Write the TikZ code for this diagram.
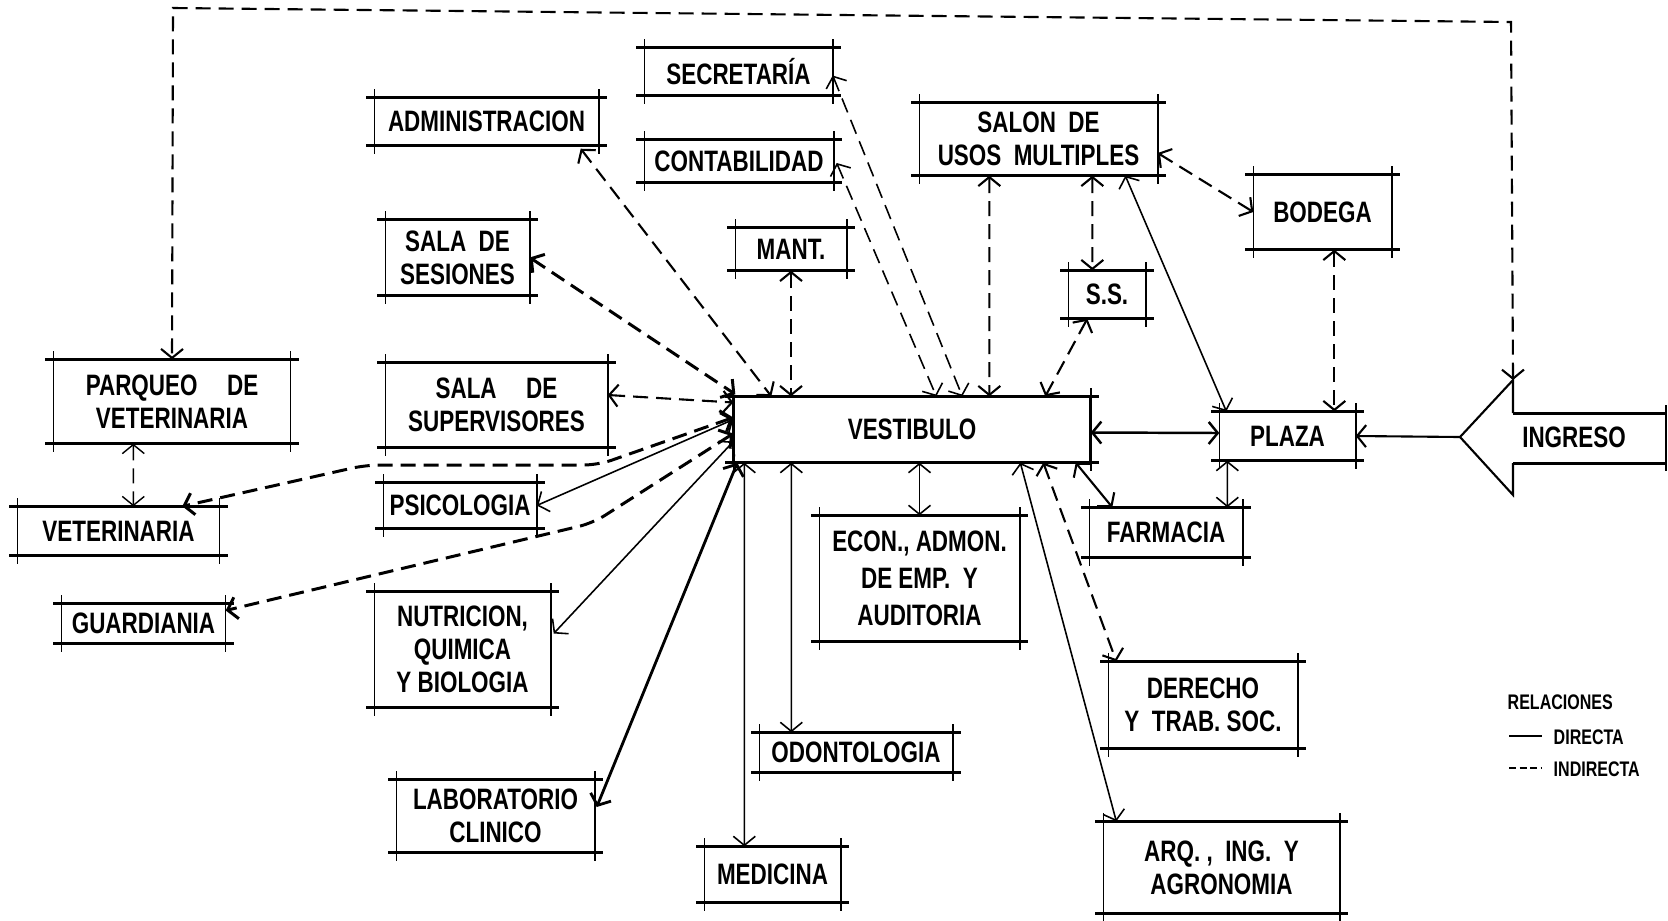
\documentclass[tikz,border=0pt]{standalone}
\usepackage{fontspec}
\newfontfamily\hand{Liberation Sans}[FakeStretch=0.76]
\usetikzlibrary{arrows.meta, calc}

\begin{document}
\begin{tikzpicture}[x=0.1mm, y=-0.1mm, >={Straight Barb[length=0.9mm,width=2.2mm]},
    room/.style={inner sep=0pt, align=center, font=\hand\bfseries\fontsize{8.4}{9.4}\selectfont},
    legend/.style={inner sep=0pt, anchor=west, font=\hand\bfseries\fontsize{6}{6}\selectfont},
    hline/.style={line width=0.85pt},
    vline/.style={line width=0.45pt},
    directa/.style={<->, line width=0.45pt},
    indirecta/.style={<->, line width=0.6pt, dash pattern=on 1.5mm off 0.8mm}]
    \useasboundingbox (0,0) rectangle (1668,920);

    % Rooms
    \node[room, minimum width=22.3mm, minimum height=4.7mm] (adm) at (486.5,121.5) {ADMINISTRACION};
    \node[room, minimum width=14.3mm, minimum height=7.5mm] (ses) at (457.5,257.5) {SALA\ \ DE\\SESIONES};
    \node[room, minimum width=23.6mm, minimum height=8.3mm] (parq) at (172,401.5) {PARQUEO\quad DE\\VETERINARIA};
    \node[room, minimum width=22.1mm, minimum height=8.4mm] (sup) at (496.5,405) {SALA\quad DE\\SUPERVISORES};
    \node[room, minimum width=18.7mm, minimum height=4.7mm] (sec) at (738.5,71.5) {SECRETARÍA};
    \node[room, minimum width=18.8mm, minimum height=4.2mm] (cont) at (739,161) {CONTABILIDAD};
    \node[room, minimum width=11mm, minimum height=4.2mm] (mant) at (791,249) {MANT.};
    \node[room, minimum width=23.7mm, minimum height=7.2mm] (salon) at (1038.5,139) {SALON\ \ DE\\USOS\ \ MULTIPLES};
    \node[room, minimum width=7.6mm, minimum height=4.7mm] (ss) at (1107,294.5) {S.S.};
    \node[room, minimum width=35.6mm, minimum height=6.5mm] (vest) at (912,429.5) {VESTIBULO};
    \node[room, minimum width=13.7mm, minimum height=7.4mm] (bod) at (1322.5,212) {BODEGA};
    \node[room, minimum width=13.5mm, minimum height=4.8mm] (plaza) at (1287.5,436) {PLAZA};
    \node[room, minimum width=20.1mm, minimum height=4.8mm] (vet) at (118.5,531) {VETERINARIA};
    \node[room, minimum width=15.2mm, minimum height=4.5mm] (psi) at (460,505.5) {PSICOLOGIA};
    \node[room, minimum width=16.3mm, minimum height=3.9mm] (guard) at (143.5,623.5) {GUARDIANIA};
    \node[room, minimum width=17.5mm, minimum height=11.5mm] (nut) at (462.5,649.5) {NUTRICION,\\QUIMICA\\Y BIOLOGIA};
    \node[room, minimum width=19.7mm, minimum height=7.2mm] (lab) at (495.5,816) {LABORATORIO\\CLINICO};
    \node[room, minimum width=19.9mm, minimum height=12.5mm, font=\hand\bfseries\fontsize{8.4}{10.5}\selectfont] (econ) at (919.5,578.5) {ECON., ADMON.\\DE EMP.\ \ Y\\AUDITORIA};
    \node[room, minimum width=15.2mm, minimum height=4.9mm] (farm) at (1166,532.5) {FARMACIA};
    \node[room, minimum width=18.8mm, minimum height=8.6mm] (der) at (1203,705) {DERECHO\\Y\ \ TRAB. SOC.};
    \node[room, minimum width=19.2mm, minimum height=3.9mm] (odon) at (856,752.5) {ODONTOLOGIA};
    \node[room, minimum width=13.5mm, minimum height=5.5mm] (med) at (772.5,874.5) {MEDICINA};
    \node[room, minimum width=23.5mm, minimum height=9.1mm] (arq) at (1221.5,867.5) {ARQ.\ ,\ \ ING.\ \ Y\\AGRONOMIA};

    % Frames with crossed corners
    \foreach \n in {adm,ses,parq,sup,sec,cont,mant,salon,ss,vest,bod,plaza,vet,psi,guard,nut,lab,econ,farm,der,odon,med,arq}{
      \draw[hline] ($(\n.north west)+(-8,0)$) -- ($(\n.north east)+(8,0)$);
      \draw[hline] ($(\n.south west)+(-8,0)$) -- ($(\n.south east)+(8,0)$);
      \draw[vline] ($(\n.north west)+(0,-8)$) -- ($(\n.south west)+(0,8)$);
      \draw[vline] ($(\n.north east)+(0,-8)$) -- ($(\n.south east)+(0,8)$);
    }
    \draw[hline] (vest.north west) -- (vest.south west) (vest.north east) -- (vest.south east);

    % Entrance
    \coordinate (ingtip) at (1460,437);
    \coordinate (ingtop) at (1513,380);
    \coordinate (ingbot) at (1513,495);
    \draw[line width=0.6pt] (ingtip) -- (ingtop) -- (1513,413) (ingtip) -- (ingbot) -- (1513,463);
    \draw[hline] (1513,413) -- (1666,413) (1513,463) -- (1666,463);
    \draw[vline] (1666,405) -- (1666,471);
    \node[room] (ing) at (1574,437) {INGRESO};

    % Indirect relations
    \draw[indirecta] (ingtop) -- (1511,22) -- (173,8) -- (parq.north);
    \draw[indirecta, line width=0.4pt] ($(parq.south west)+(80,0)$) -- ($(vet.north west)+(116,0)$);
    \draw[indirecta, line width=0.85pt, rounded corners=4pt] ($(vest.west)+(0,-12)$) -- (598,465) -- (366,465) -- ($(vet.north west)+(165,0)$);
    \draw[indirecta] ($(sup.east)+(0,-10)$) -- ($(vest.west)+(0,-27)$);
    \draw[indirecta, line width=0.85pt, rounded corners=4pt] ($(vest.west)+(0,4)$) -- (593,523) -- ($(guard.east)+(0,-13)$);
    \draw[indirecta, line width=0.85pt] (ses.east) -- ($(vest.north west)+(2,-2)$);
    \draw[indirecta] ($(adm.south east)+(-18,3)$) -- ($(vest.north west)+(38,0)$);
    \draw[indirecta] (mant.south) -- (mant.south |- vest.north);
    \draw[indirecta, line width=0.45pt] ($(cont.east)+(3,2)$) -- ($(vest.north west)+(203,0)$);
    \draw[indirecta, line width=0.45pt] ($(sec.east)+(0,4)$) -- ($(vest.north west)+(229,0)$);
    \draw[indirecta] ($(salon.south west)+(70,0)$) -- ($(vest.north west)+(256,0)$);
    \draw[indirecta] ($(ss.south west)+(19,0)$) -- ($(vest.north west)+(312,0)$);
    \draw[indirecta] ($(salon.south west)+(173,0)$) -- ($(ss.north west)+(24,0)$);
    \draw[indirecta] ($(salon.east)+(0,14)$) -- (bod.west);
    \draw[indirecta] ($(bod.south west)+(81,0)$) -- ($(plaza.north west)+(115,0)$);
    \draw[indirecta] ($(vest.south west)+(310,0)$) -- ($(der.north west)+(8,0)$);

    % Direct relations
    \draw[directa] (psi.east) -- ($(vest.west)+(0,-10)$);
    \draw[directa] ($(nut.east)+(3,-16)$) -- ($(vest.west)+(0,12)$);
    \draw[directa, line width=0.8pt] ($(lab.east)+(2,-9)$) -- ($(vest.south west)+(4,0)$);
    \draw[directa] ($(vest.south west)+(11,0)$) -- ($(med.north west)+(40,0)$);
    \draw[directa] ($(vest.south west)+(58,0)$) -- ($(odon.north west)+(32,0)$);
    \draw[directa] (econ.north |- vest.south) -- (econ.north);
    \draw[directa] ($(vest.south west)+(287,0)$) -- ($(arq.north west)+(13,0)$);
    \draw[directa, line width=0.6pt] ($(vest.south east)+(-15,0)$) -- ($(farm.north west)+(23,0)$);
    \draw[directa, line width=0.7pt] ($(vest.east)+(0,3)$) -- ($(plaza.west)+(0,-3)$);
    \draw[directa, ->, line width=0.6pt] (ingtip) -- (plaza.east);
    \draw[directa] ($(plaza.south west)+(8,0)$) -- ($(farm.north west)+(138,0)$);
    \draw[directa] ($(salon.south west)+(206,0)$) -- ($(plaza.north west)+(7,0)$);

    % Legend
    \node[legend] (rel) at (1507,702) {RELACIONES};
    \node[legend] (ldir) at (1553,737) {DIRECTA};
    \node[legend] (lind) at (1553,769) {INDIRECTA};
    \draw[line width=0.8pt] (1509,736) -- (1542,736);
    \draw[line width=0.8pt, dash pattern=on 0.7mm off 0.35mm] (1509,768) -- (1542,768);
\end{tikzpicture}
\end{document}
